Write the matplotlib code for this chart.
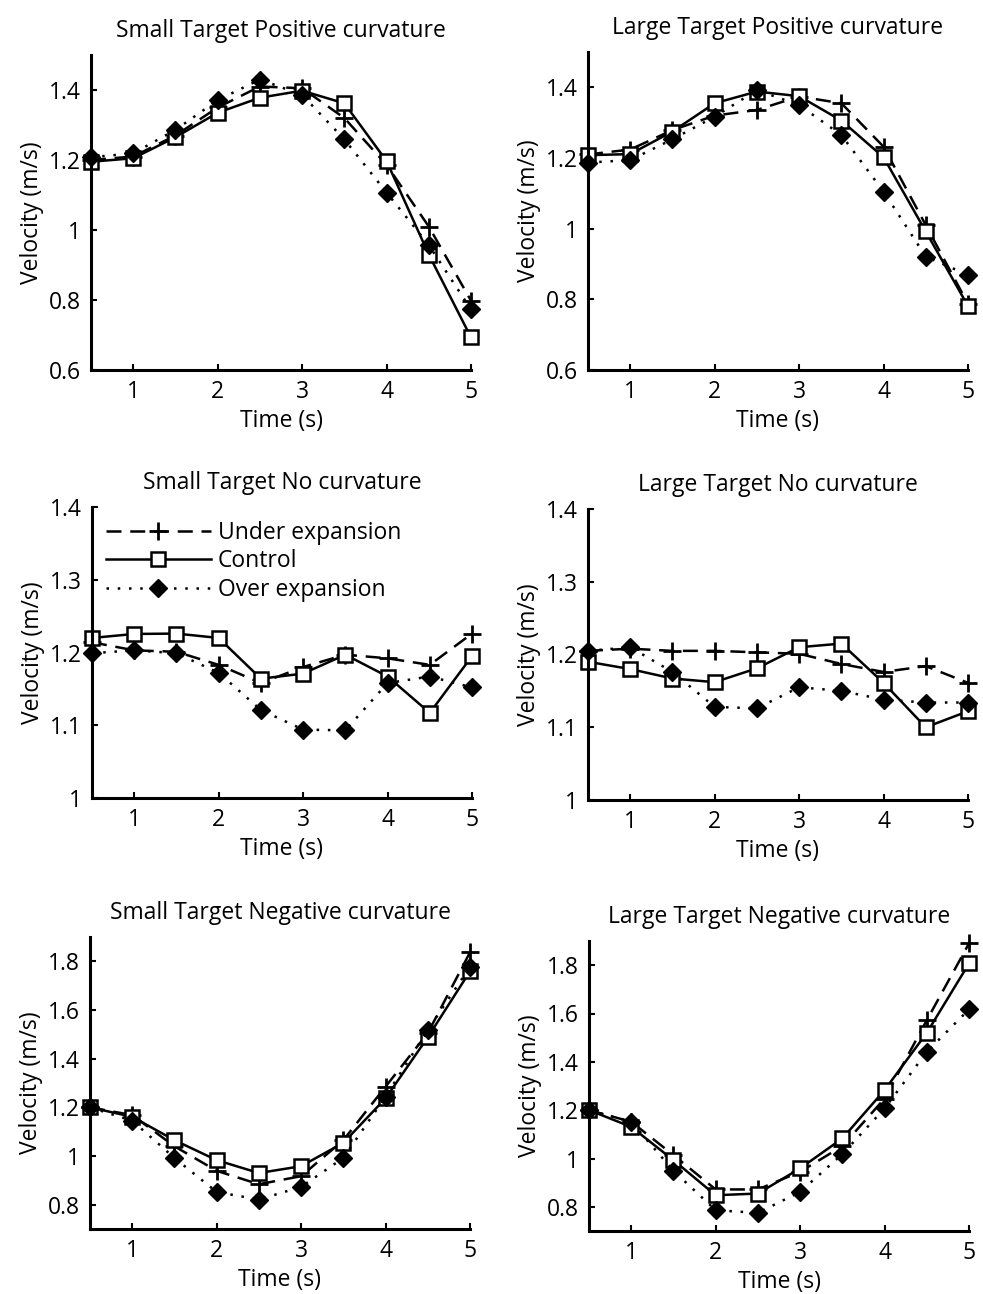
import matplotlib
matplotlib.use("Agg")
import matplotlib.pyplot as plt

plt.rcParams['font.family'] = ['Open Sans', 'DejaVu Sans']

time = [0.5, 1.0, 1.5, 2.0, 2.5, 3.0, 3.5, 4.0, 4.5, 5.0]

titles = ["Small Target Positive curvature", "Large Target Positive curvature",
          "Small Target No curvature", "Large Target No curvature",
          "Small Target Negative curvature", "Large Target Negative curvature"]

# Under expansion
under = [
    [1.20, 1.21, 1.27, 1.35, 1.41, 1.405, 1.32, 1.186, 1.01, 0.798],
    [1.21, 1.224, 1.279, 1.32, 1.336, 1.374, 1.355, 1.232, 1.01, 0.787],
    [1.214, 1.203, 1.201, 1.183, 1.158, 1.180, 1.197, 1.192, 1.183, 1.226],
    [1.205, 1.208, 1.205, 1.205, 1.203, 1.201, 1.187, 1.176, 1.184, 1.161],
    [1.20, 1.168, 1.04, 0.939, 0.884, 0.917, 1.065, 1.285, 1.505, 1.837],
    [1.20, 1.152, 1.014, 0.872, 0.872, 0.945, 1.051, 1.248, 1.572, 1.89],
]
# Control
control = [
    [1.195, 1.205, 1.265, 1.335, 1.378, 1.398, 1.362, 1.197, 0.93, 0.693],
    [1.208, 1.211, 1.275, 1.355, 1.388, 1.375, 1.306, 1.202, 0.992, 0.781],
    [1.22, 1.2255, 1.226, 1.22, 1.164, 1.171, 1.197, 1.167, 1.117, 1.195],
    [1.19, 1.18, 1.167, 1.162, 1.181, 1.21, 1.215, 1.161, 1.10, 1.122],
    [1.20, 1.161, 1.065, 0.983, 0.93, 0.958, 1.054, 1.237, 1.488, 1.759],
    [1.20, 1.131, 0.993, 0.848, 0.855, 0.959, 1.083, 1.283, 1.52, 1.807],
]
# Over expansion
over = [
    [1.208, 1.219, 1.286, 1.371, 1.43, 1.386, 1.259, 1.107, 0.957, 0.773],
    [1.187, 1.194, 1.253, 1.317, 1.392, 1.35, 1.265, 1.105, 0.921, 0.869],
    [1.199, 1.203, 1.199, 1.172, 1.121, 1.094, 1.093, 1.158, 1.167, 1.152],
    [1.205, 1.21, 1.176, 1.128, 1.126, 1.155, 1.15, 1.138, 1.134, 1.134],
    [1.20, 1.145, 0.992, 0.852, 0.821, 0.873, 0.992, 1.244, 1.518, 1.777],
    [1.20, 1.152, 0.949, 0.786, 0.775, 0.862, 1.018, 1.207, 1.441, 1.617],
]

ylims = [(0.6, 1.5), (0.6, 1.5), (1.0, 1.4), (1.0, 1.4), (0.7, 1.9), (0.7, 1.9)]
yticks = [[0.6, 0.8, 1.0, 1.2, 1.4], [0.6, 0.8, 1.0, 1.2, 1.4],
          [1.0, 1.1, 1.2, 1.3, 1.4], [1.0, 1.1, 1.2, 1.3, 1.4],
          [0.8, 1.0, 1.2, 1.4, 1.6, 1.8], [0.8, 1.0, 1.2, 1.4, 1.6, 1.8]]
ytlabels = [["0.6", "0.8", "1", "1.2", "1.4"], ["0.6", "0.8", "1", "1.2", "1.4"],
            ["1", "1.1", "1.2", "1.3", "1.4"], ["1", "1.1", "1.2", "1.3", "1.4"],
            ["0.8", "1", "1.2", "1.4", "1.6", "1.8"], ["0.8", "1", "1.2", "1.4", "1.6", "1.8"]]
xticks = [1, 2, 3, 4, 5]
xtlabels = ["1", "2", "3", "4", "5"]

W, H = 983, 1294
fig = plt.figure(figsize=(W / 100, H / 100), dpi=100)

# axes boxes in pixels: left, right, top, bottom
boxes = [(91, 471, 55, 370), (588, 968, 52, 370),
         (92, 472, 507, 798), (588, 968, 509, 800),
         (90, 470, 937, 1229), (589, 969, 941, 1231)]

fs = 16.5
for i, (l, r, t, b) in enumerate(boxes):
    ax = fig.add_axes([l / W, 1 - b / H, (r - l) / W, (b - t) / H])
    ax.plot(time, under[i], color='black', linestyle=(0, (6, 3.5)), linewidth=1.8,
            marker='+', markersize=13, markeredgewidth=2, label='Under expansion')
    ax.plot(time, control[i], color='black', linestyle='-', linewidth=1.8,
            marker='s', markersize=10, markerfacecolor='white', markeredgewidth=1.8,
            label='Control')
    ax.plot(time, over[i], color='black', linestyle=(0, (1, 3.5)), linewidth=1.8,
            marker='D', markersize=9.5, markerfacecolor='black', label='Over expansion')
    ax.set_xlim(0.5, 5.0)
    ax.set_ylim(*ylims[i])
    ax.set_xticks(xticks)
    ax.set_xticklabels(xtlabels)
    ax.set_yticks(yticks[i])
    ax.set_yticklabels(ytlabels[i])
    for s in ['top', 'right']:
        ax.spines[s].set_visible(False)
    for s in ['left', 'bottom']:
        ax.spines[s].set_linewidth(2.2)
    ax.tick_params(direction='in', length=4, width=1.5, labelsize=fs, pad=7)
    ax.set_xlabel('Time (s)', fontsize=fs, labelpad=4)
    ax.set_ylabel('Velocity (m/s)', fontsize=fs, labelpad=4)
    ax.set_title(titles[i], fontsize=fs, pad=13)
    for ln in ax.lines:
        ln.set_clip_on(False)
    if i == 2:
        ax.legend(loc='upper left', frameon=False, fontsize=fs, handlelength=4.6,
                  numpoints=1, borderaxespad=0.2, handletextpad=0.3,
                  labelspacing=0.2, bbox_to_anchor=(0.0, 1.0))

fig.savefig('out.png', dpi=100)
